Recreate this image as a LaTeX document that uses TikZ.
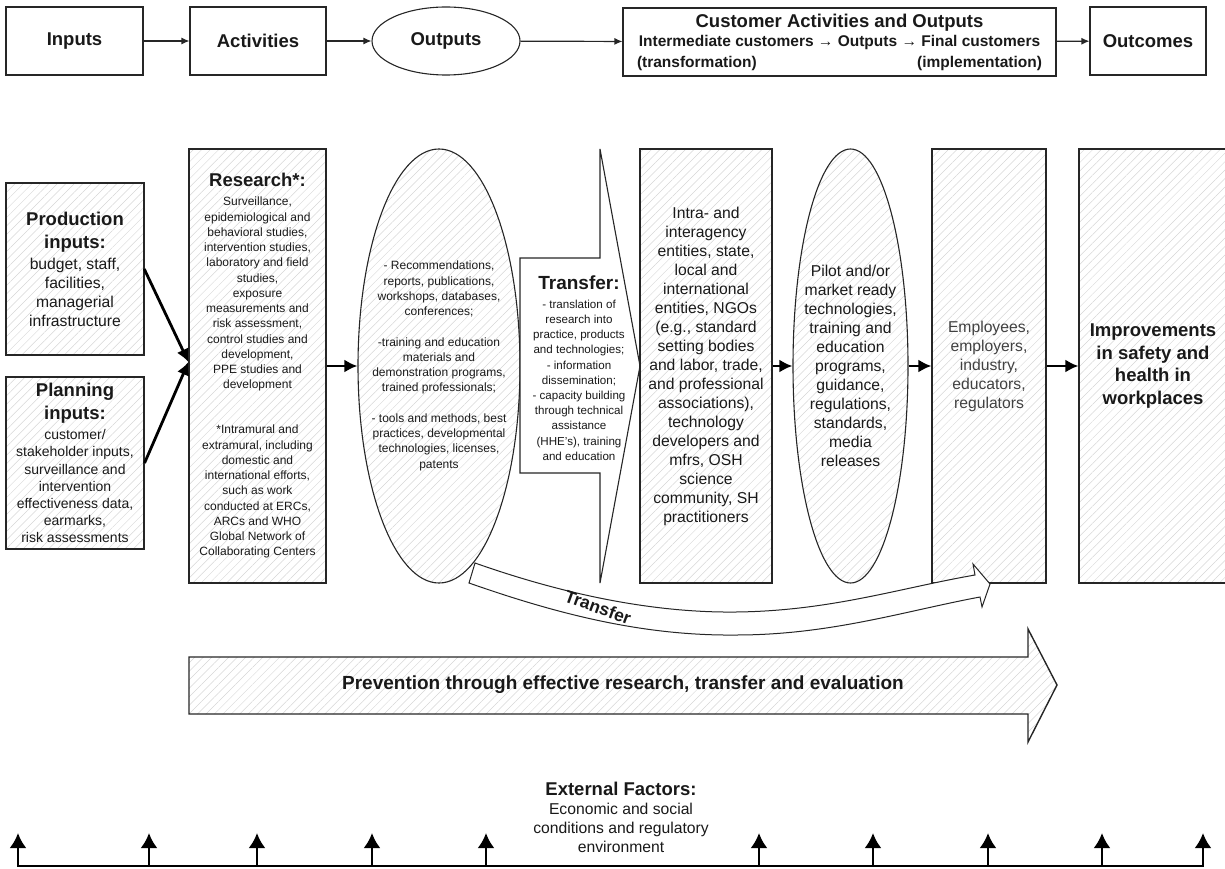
\documentclass[tikz,border=0pt]{standalone}
\usepackage{fontspec}
\setmainfont{Liberation Sans}
\usetikzlibrary{shapes.geometric,arrows.meta,patterns.meta}

\newcommand{\headfont}{\fontsize{18.5}{22}\selectfont\bfseries}
\newcommand{\subheadfont}{\fontsize{15.5}{20.5}\selectfont\bfseries}
\newcommand{\bodyfont}{\fontsize{15.7}{19}\selectfont}
\newcommand{\planfont}{\fontsize{14}{17.2}\selectfont}
\newcommand{\notefont}{\fontsize{12}{15.25}\selectfont}
\newcommand{\xferfont}{\fontsize{11.6}{15.2}\selectfont}

\begin{document}
\begin{tikzpicture}[x=1pt,y=-1pt,
  box/.style={draw=black!85, line width=1.1pt, inner sep=0pt, align=center, text=black!90},
  hatch/.style={pattern={Lines[angle=45,distance=6pt,line width=0.5pt]}, pattern color=black!16},
  toparrow/.style={-{Latex[length=8pt,width=7pt]}, line width=1.2pt, draw=black!85},
  midarrow/.style={-{Latex[length=13pt,width=13pt]}, line width=2.8pt},
  extarrow/.style={-{Latex[length=15pt,width=17pt]}, line width=2.8pt}]
\useasboundingbox (0,0) rectangle (1225,869);

% top row
\node[box, minimum width=137pt, minimum height=68pt, font=\headfont](inputs) at (74.5,41) {Inputs};
\node[box, minimum width=136pt, minimum height=68pt, font=\headfont](activities) at (258,41) {Activities};
\node[box, ellipse, minimum width=148pt, minimum height=68pt, font=\headfont](outputs) at (446,41) {Outputs};
\node[box, minimum width=433pt, minimum height=68pt, font=\subheadfont](customer) at (839.5,42) {{\headfont Customer Activities and Outputs}\\[-1pt] Intermediate customers → Outputs → Final customers\\ \makebox[405pt]{(transformation)\hfill(implementation)}};
\node[box, minimum width=116pt, minimum height=68pt, font=\headfont](outcomes) at (1148,41) {Outcomes};

\draw[toparrow] (inputs) to (activities);
\draw[toparrow] (activities) to (outputs);
\draw[toparrow] (outputs) to (customer);
\draw[toparrow] (customer) to (outcomes);

% middle row
\node[box, hatch, minimum width=138pt, minimum height=172pt, font=\bodyfont](prod) at (75,269) {{\headfont Production}\\[4pt] {\headfont inputs:}\\[2pt] budget, staff,\\ facilities,\\ managerial\\ infrastructure};
\node[box, hatch, minimum width=138pt, minimum height=172pt, font=\planfont](plan) at (75,463) {{\headfont Planning}\\[4.8pt] {\headfont inputs:}\\[2.8pt] customer/\\ stakeholder inputs,\\ surveillance and\\ intervention\\ effectiveness data,\\ earmarks,\\ risk assessments};
\node[box, hatch, minimum width=137pt, minimum height=434pt, font=\notefont](research) at (257.5,366) {{\headfont Research*:}\\[3.75pt] Surveillance,\\ epidemiological and\\ behavioral studies,\\ intervention studies,\\ laboratory and field\\ studies,\\ exposure\\ measurements and\\ risk assessment,\\ control studies and\\ development,\\ PPE studies and\\ development\\[29.75pt] *Intramural and\\ extramural, including\\ domestic and\\ international efforts,\\ such as work\\ conducted at ERCs,\\ ARCs and WHO\\ Global Network of\\ Collaborating Centers};

\node[box, hatch, ellipse, minimum width=162pt, minimum height=434pt](outell) at (439,366) {};
\node[align=center, font=\notefont, text=black!90](outtxt) at (439,366) {- Recommendations,\\ reports, publications,\\ workshops, databases,\\ conferences;\\[15.25pt] -training and education\\ materials and\\ demonstration programs,\\ trained professionals;\\[15.25pt] - tools and methods, best\\ practices, developmental\\ technologies, licenses,\\ patents};

\draw[line width=1.1pt, draw=black!85, fill=white] (520,258) -- (600,258) -- (600,149) -- (640,366) -- (600,583) -- (600,473) -- (520,473) -- cycle;
\node[align=center, font=\xferfont, text=black!90](xfer) at (579,368) {{\fontsize{19}{22}\selectfont\bfseries Transfer:}\\[3.8pt] - translation of\\ research into\\ practice, products\\ and technologies;\\ - information\\ dissemination;\\ - capacity building\\ through technical\\ assistance\\ (HHE's), training\\ and education};

\node[box, hatch, minimum width=132pt, minimum height=434pt, font=\bodyfont](intra) at (706,366) {Intra- and\\ interagency\\ entities, state,\\ local and\\ international\\ entities, NGOs\\ (e.g., standard\\ setting bodies\\ and labor, trade,\\ and professional\\ associations),\\ technology\\ developers and\\ mfrs, OSH\\ science\\ community, SH\\ practitioners};

\node[box, hatch, ellipse, minimum width=115pt, minimum height=434pt](pilot) at (850.5,366) {};
\node[align=center, font=\bodyfont, text=black!90](pilottxt) at (850.5,366) {Pilot and/or\\ market ready\\ technologies,\\ training and\\ education\\ programs,\\ guidance,\\ regulations,\\ standards,\\ media\\ releases};

\node[box, hatch, minimum width=114pt, minimum height=434pt, font=\bodyfont, text=black!75](employ) at (989,366) {Employees,\\ employers,\\ industry,\\ educators,\\ regulators};
\node[box, hatch, minimum width=148pt, minimum height=434pt, font=\fontsize{18.5}{22.6}\selectfont\bfseries](improve) at (1153,366) {Improvements\\ in safety and\\ health in\\ workplaces};

\draw[midarrow] (prod.east) to ([yshift=4pt]research.west);
\draw[midarrow] (plan.east) to ([yshift=4pt]research.west);
\draw[midarrow] (research) to (outell);
\draw[midarrow] (intra) to (pilot);
\draw[midarrow] (pilot) to (employ);
\draw[midarrow] (employ) to (improve);

% curved transfer band
\draw[line width=1pt, draw=black!85, fill=white] (475,563) .. controls (560,593) and (650,613) .. (736,612) .. controls (830,611) and (900,588) .. (975,575) -- (973,564) -- (990,584) -- (982,607) -- (980,597) .. controls (905,611) and (830,635) .. (736,635) .. controls (645,636) and (560,615) .. (469,583) -- cycle;
\node[rotate=-20, font=\fontsize{17.5}{20}\selectfont\bfseries, text=black!90, inner sep=0pt](xferlbl) at (598,607) {Transfer};

% prevention arrow
\draw[line width=1.4pt, draw=black!85, hatch] (189,657) -- (1028,657) -- (1028,629) -- (1057,685) -- (1028,742) -- (1028,714) -- (189,714) -- cycle;
\node[font=\fontsize{19}{22}\selectfont\bfseries, text=black!90](prevent) at (623,685) {Prevention through effective research, transfer and evaluation};

% external factors
\node[font=\headfont, text=black!90](extttl) at (621,789) {External Factors:};
\node[align=center, font=\bodyfont, text=black!90](exttxt) at (621,828) {Economic and social\\ conditions and regulatory\\ environment};

\coordinate (b1) at (18,866);   \coordinate (t1) at (18,833);
\coordinate (b2) at (149,866);  \coordinate (t2) at (149,833);
\coordinate (b3) at (257,866);  \coordinate (t3) at (257,833);
\coordinate (b4) at (372,866);  \coordinate (t4) at (372,833);
\coordinate (b5) at (486,866);  \coordinate (t5) at (486,833);
\coordinate (b6) at (759,866);  \coordinate (t6) at (759,833);
\coordinate (b7) at (873,866);  \coordinate (t7) at (873,833);
\coordinate (b8) at (988,866);  \coordinate (t8) at (988,833);
\coordinate (b9) at (1102,866); \coordinate (t9) at (1102,833);
\coordinate (b10) at (1203,866); \coordinate (t10) at (1203,833);

\draw[line width=2.8pt, line cap=rect] (b1) to (b10);
\draw[extarrow] (b1) to (t1);
\draw[extarrow] (b2) to (t2);
\draw[extarrow] (b3) to (t3);
\draw[extarrow] (b4) to (t4);
\draw[extarrow] (b5) to (t5);
\draw[extarrow] (b6) to (t6);
\draw[extarrow] (b7) to (t7);
\draw[extarrow] (b8) to (t8);
\draw[extarrow] (b9) to (t9);
\draw[extarrow] (b10) to (t10);

\end{tikzpicture}
\end{document}
